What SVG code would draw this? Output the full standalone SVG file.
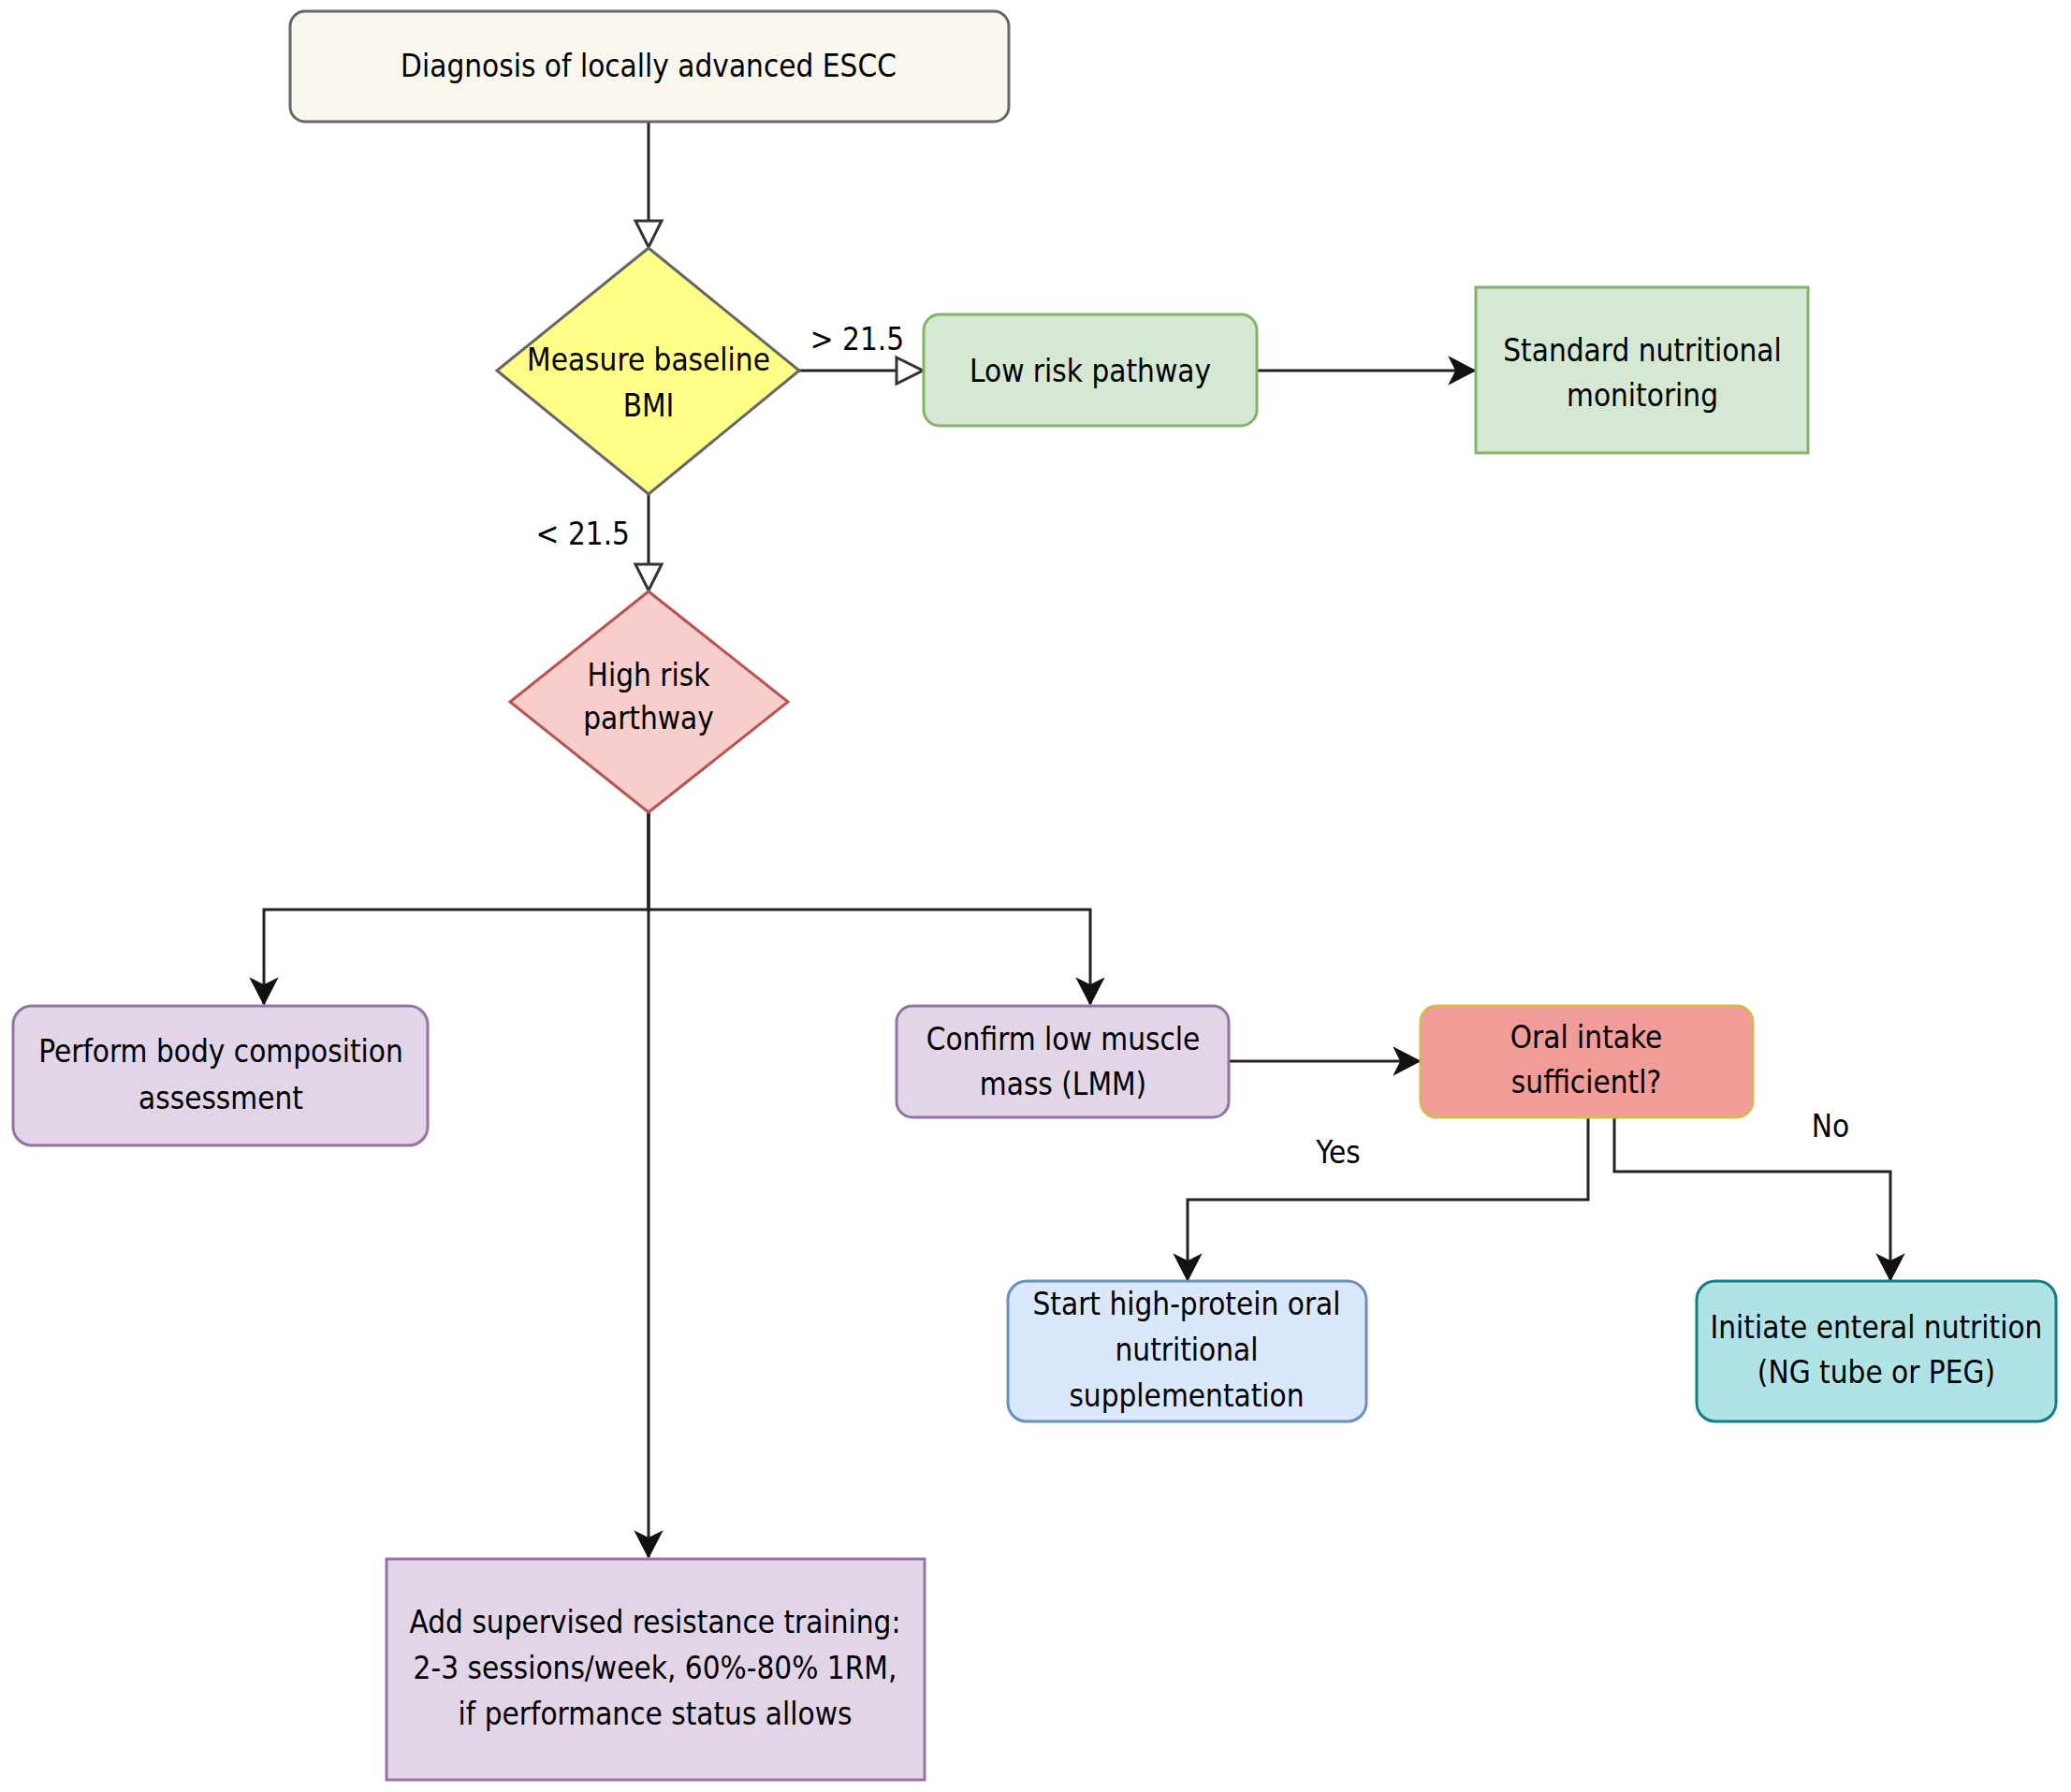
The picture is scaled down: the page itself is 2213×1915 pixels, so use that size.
<svg xmlns="http://www.w3.org/2000/svg" width="2213" height="1915" viewBox="0 0 2213 1915">
<style>
  text { font-family: "DejaVu Sans Condensed", "DejaVu Sans", sans-serif; font-stretch: condensed; font-size: 33px; fill: #000; text-anchor: middle; }
  .edge { fill: none; stroke: #222; stroke-width: 3; }
  .n { stroke-width: 3; }
</style>
<defs>
  <marker id="open" markerUnits="userSpaceOnUse" viewBox="-3 -17 34 34" markerWidth="34" markerHeight="34" refX="28" refY="0" orient="auto">
    <path d="M0,-14 L28,0 L0,14 Z" fill="#fff" stroke="#333" stroke-width="3" stroke-linejoin="miter"/>
  </marker>
  <marker id="classic" markerUnits="userSpaceOnUse" viewBox="-3 -17 34 34" markerWidth="34" markerHeight="34" refX="27" refY="0" orient="auto">
    <path d="M0,-14 L27,0 L0,14 L7,0 Z" fill="#111" stroke="#111" stroke-width="1.5" stroke-linejoin="miter"/>
  </marker>
</defs>
<rect width="2213" height="1915" fill="#fff"/>

<g id="connectors">
  <path class="edge" d="M693,130 L693,264" marker-end="url(#open)"/>
  <path class="edge" d="M854,396 L986,396" marker-end="url(#open)"/>
  <path class="edge" d="M693,528 L693,631" marker-end="url(#open)"/>
  <path class="edge" d="M1343,396 L1576,396" marker-end="url(#classic)"/>
  <path class="edge" d="M693,868 L693,972 L282,972 L282,1073" marker-end="url(#classic)"/>
  <path class="edge" d="M693,868 L693,972 L1165,972 L1165,1073" marker-end="url(#classic)"/>
  <path class="edge" d="M693,868 L693,1664" marker-end="url(#classic)"/>
  <path class="edge" d="M1313,1134 L1517,1134" marker-end="url(#classic)"/>
  <path class="edge" d="M1697,1194 L1697,1282 L1269,1282 L1269,1368" marker-end="url(#classic)"/>
  <path class="edge" d="M1725,1194 L1725,1252 L2020,1252 L2020,1368" marker-end="url(#classic)"/>
  <text x="916" y="374">&gt; 21.5</text>
  <text x="673" y="582" style="text-anchor:end">&lt; 21.5</text>
  <text x="1430" y="1243">Yes</text>
  <text x="1956" y="1215">No</text>
</g>

<g id="diagnosis">
  <rect class="n" x="310" y="12" width="768" height="118" rx="16" fill="#f9f7ed" stroke="#666"/>
  <text x="693" y="82">Diagnosis of locally advanced ESCC</text>
</g>

<g id="measure-bmi">
  <polygon class="n" points="693,265 854,396 693,528 531,396" fill="#ffff88" stroke="#666"/>
  <text x="693" y="396">Measure baseline</text>
  <text x="693" y="445">BMI</text>
</g>

<g id="low-risk">
  <rect class="n" x="987" y="336" width="356" height="119" rx="17" fill="#d5e8d4" stroke="#82b366"/>
  <text x="1165" y="408">Low risk pathway</text>
</g>

<g id="standard-monitoring">
  <rect class="n" x="1577" y="307" width="355" height="177" fill="#d5e8d4" stroke="#82b366"/>
  <text x="1755" y="386">Standard nutritional</text>
  <text x="1755" y="434">monitoring</text>
</g>

<g id="high-risk">
  <polygon class="n" points="693,632 842,750 693,868 545,750" fill="#f8cecc" stroke="#b85450"/>
  <text x="693" y="733">High risk</text>
  <text x="693" y="779">parthway</text>
</g>

<g id="body-composition">
  <rect class="n" x="14" y="1075" width="443" height="149" rx="20" fill="#e1d5e7" stroke="#9673a6"/>
  <text x="236" y="1135">Perform body composition</text>
  <text x="236" y="1185">assessment</text>
</g>

<g id="confirm-lmm">
  <rect class="n" x="958" y="1075" width="355" height="119" rx="17" fill="#e1d5e7" stroke="#9673a6"/>
  <text x="1136" y="1122">Confirm low muscle</text>
  <text x="1136" y="1170">mass (LMM)</text>
</g>

<g id="oral-intake">
  <rect class="n" x="1518" y="1075" width="355" height="119" rx="17" fill="#f19c99" stroke="#d6b656"/>
  <text x="1695" y="1120">Oral intake</text>
  <text x="1695" y="1168">sufficientl?</text>
</g>

<g id="oral-supplementation">
  <rect class="n" x="1077" y="1369" width="383" height="150" rx="20" fill="#dae8fc" stroke="#6c8ebf"/>
  <text x="1268" y="1405">Start high-protein oral</text>
  <text x="1268" y="1454">nutritional</text>
  <text x="1268" y="1503">supplementation</text>
</g>

<g id="enteral-nutrition">
  <rect class="n" x="1813" y="1369" width="384" height="150" rx="20" fill="#b0e3e6" stroke="#0e8088"/>
  <text x="2005" y="1430">Initiate enteral nutrition</text>
  <text x="2005" y="1478">(NG tube or PEG)</text>
</g>

<g id="resistance-training">
  <rect class="n" x="413" y="1666" width="575" height="236" fill="#e1d5e7" stroke="#9673a6"/>
  <text x="700" y="1745">Add supervised resistance training:</text>
  <text x="700" y="1794">2-3 sessions/week, 60%-80% 1RM,</text>
  <text x="700" y="1843">if performance status allows</text>
</g>
</svg>
